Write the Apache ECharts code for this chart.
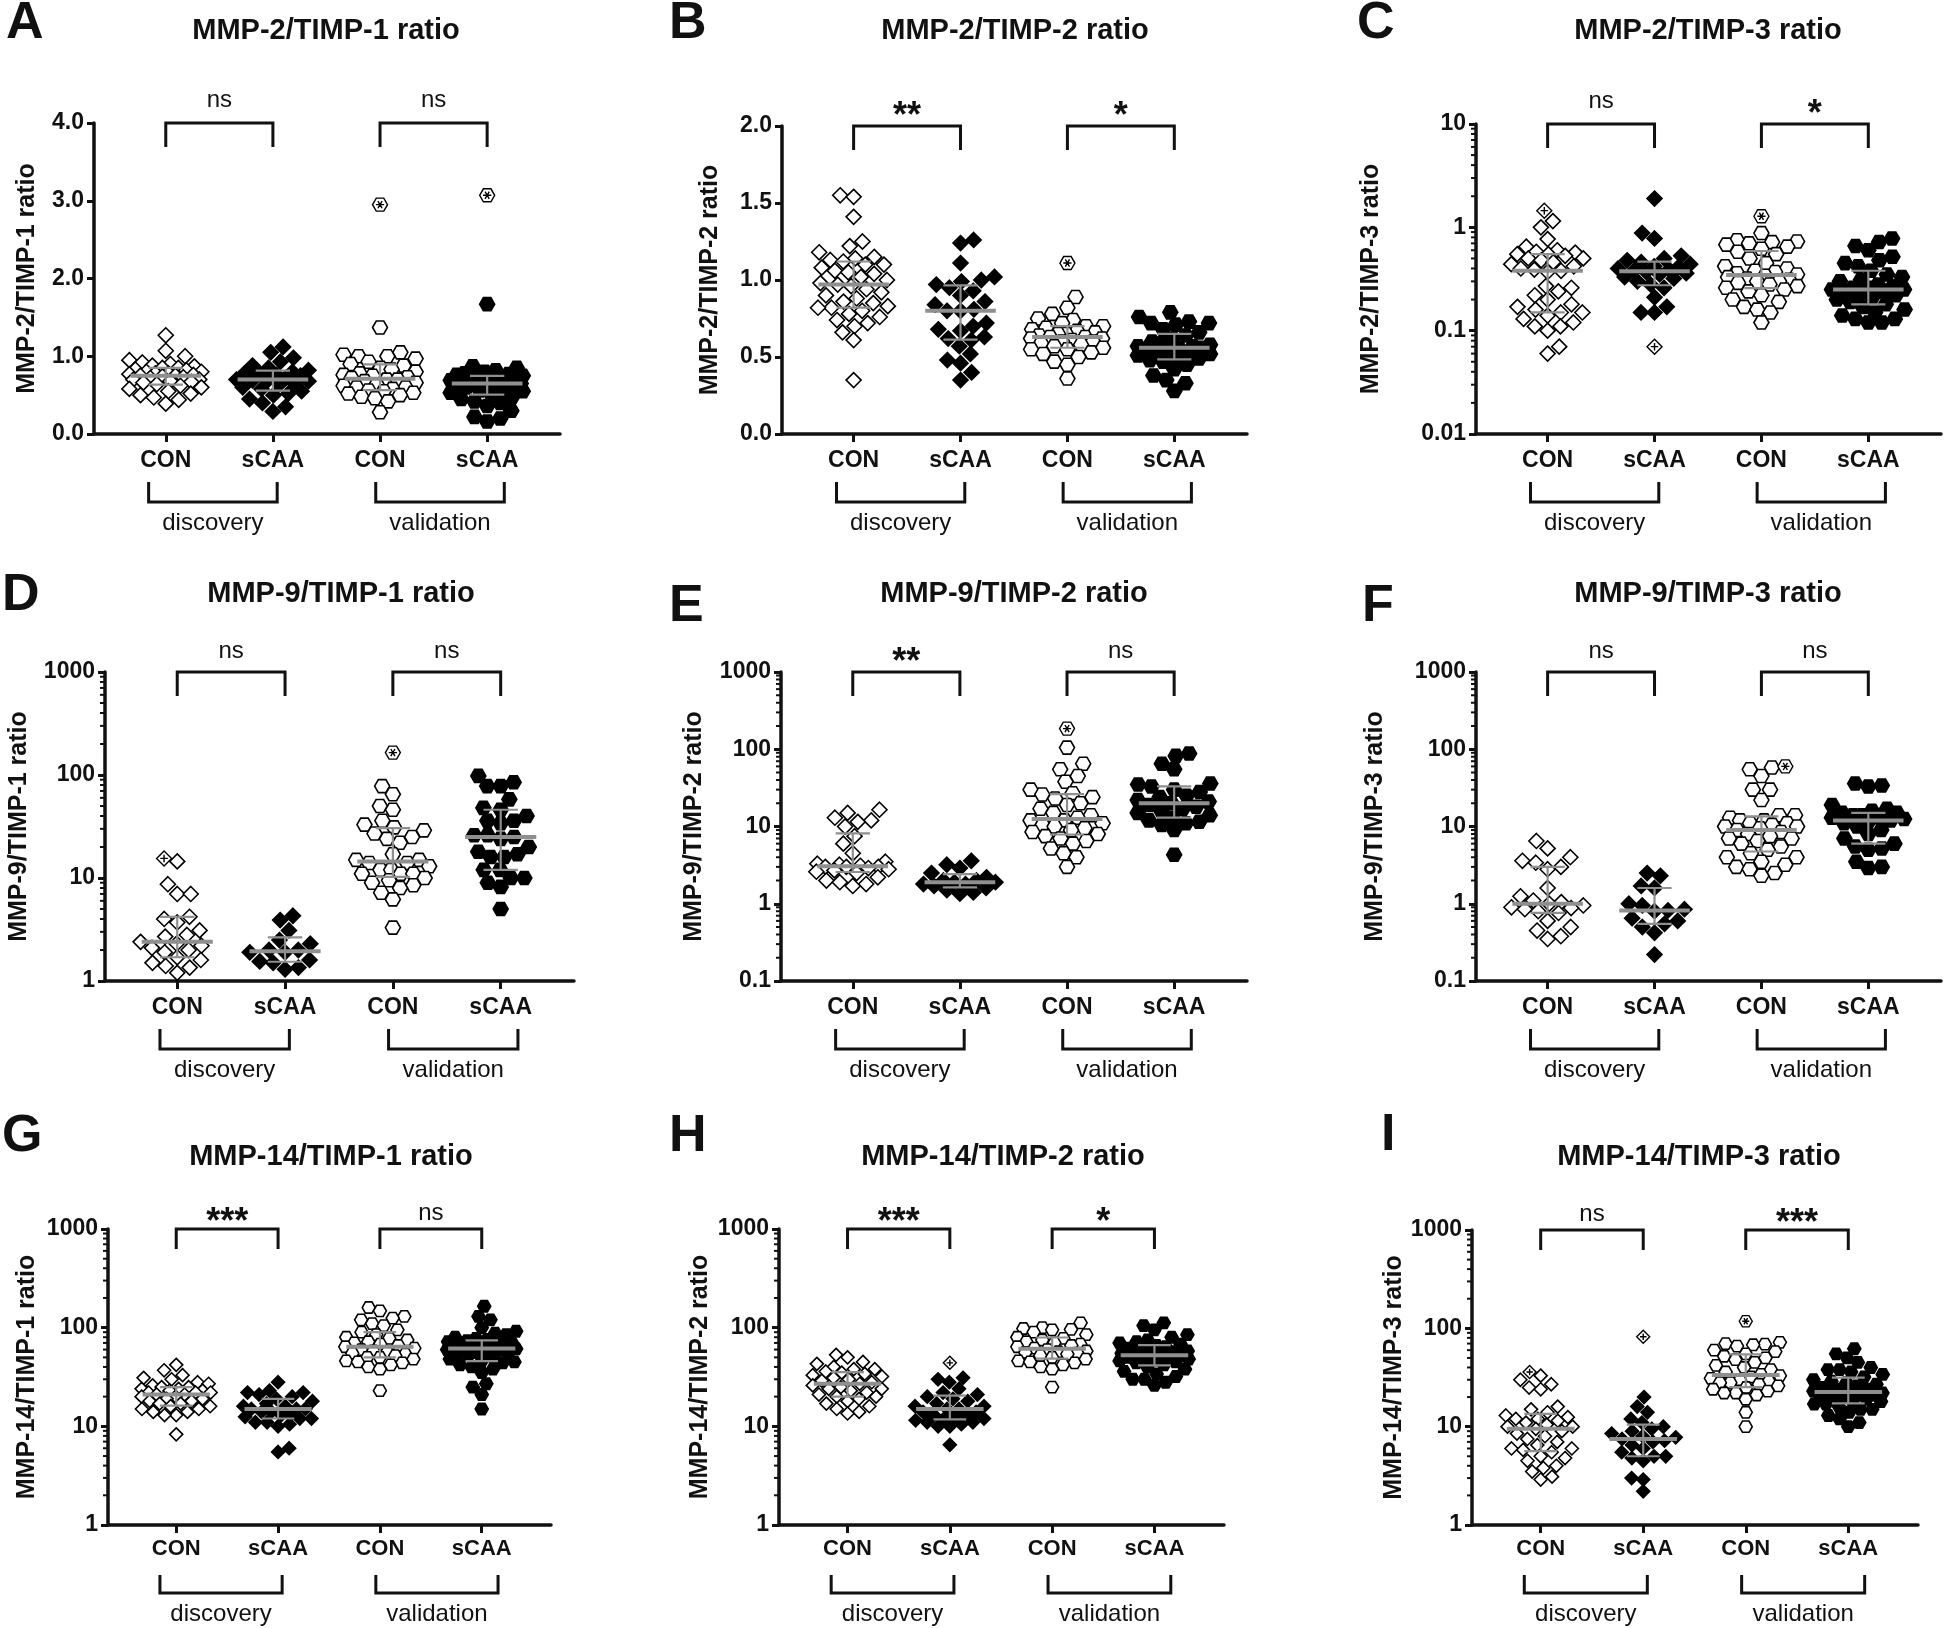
<!DOCTYPE html>
<html><head><meta charset="utf-8">
<script src="https://cdn.jsdelivr.net/npm/echarts@6/dist/echarts.min.js"></script>
<style>html,body{margin:0;padding:0;background:#fff}#c{width:1944px;height:1628px}</style>
</head><body><div id="c"></div>
<script>
// ---------- categories / labels ----------
const CATS = ['CON', 'sCAA', 'CON', 'sCAA'];
const COHORTS = ['discovery', 'validation'];
const LETTERS = ['A','B','C','D','E','F','G','H','I'];
const TITLES = ['MMP-2/TIMP-1 ratio','MMP-2/TIMP-2 ratio','MMP-2/TIMP-3 ratio',
                'MMP-9/TIMP-1 ratio','MMP-9/TIMP-2 ratio','MMP-9/TIMP-3 ratio',
                'MMP-14/TIMP-1 ratio','MMP-14/TIMP-2 ratio','MMP-14/TIMP-3 ratio'];
const SIG = [['ns','ns'],['**','*'],['ns','*'],['ns','ns'],['**','ns'],['ns','ns'],['***','ns'],['***','*'],['ns','***']];
// y axis ranges: [type, min, max, interval]
const YAX = [['value',0,4,1],['value',0,2,0.5],['log',0.01,10],['log',1,1000],['log',0.1,1000],['log',0.1,1000],['log',1,1000],['log',1,1000],['log',1,1000]];

// ---------- data (groups: discovery CON, discovery sCAA, validation CON, validation sCAA) ----------
const A_disCON = [1.27,1.07,1.0,0.95,0.92,0.9,0.88,0.87,0.85,0.85,0.83,0.82,0.8,0.8,0.78,0.78,0.77,0.76,0.75,0.75,0.74,0.73,0.72,0.7,0.7,0.68,0.67,0.66,0.64,0.62,0.6,0.58,0.55,0.52,0.5,0.47,0.44,0.39];
const A_disSCAA = [1.12,1.05,0.98,0.93,0.88,0.85,0.82,0.8,0.78,0.77,0.76,0.75,0.72,0.7,0.7,0.69,0.68,0.66,0.64,0.6,0.58,0.55,0.52,0.5,0.45,0.4,0.35,0.29];
const A_valCON = [2.95,1.37,1.05,1.02,1.0,1.0,0.97,0.93,0.9,0.88,0.85,0.83,0.8,0.78,0.76,0.75,0.73,0.72,0.7,0.7,0.68,0.66,0.64,0.62,0.6,0.6,0.58,0.56,0.55,0.53,0.52,0.5,0.48,0.46,0.42,0.28];
const A_valSCAA = [3.07,1.67,0.87,0.85,0.82,0.8,0.78,0.77,0.76,0.75,0.74,0.73,0.72,0.7,0.7,0.69,0.68,0.67,0.66,0.65,0.65,0.64,0.63,0.62,0.6,0.6,0.58,0.56,0.55,0.53,0.5,0.48,0.45,0.42,0.4,0.36,0.3,0.22,0.2,0.16];
const A_flag = [null, null, 2.95, 3.07];

const B_disCON = [1.55,1.54,1.41,1.25,1.22,1.18,1.15,1.14,1.13,1.12,1.1,1.1,1.08,1.06,1.05,1.04,1.02,1.0,0.98,0.97,0.96,0.94,0.92,0.9,0.88,0.86,0.85,0.83,0.82,0.82,0.8,0.78,0.76,0.74,0.72,0.7,0.66,0.61,0.35];
const B_disSCAA = [1.26,1.24,1.11,1.02,1.0,0.99,0.97,0.95,0.93,0.9,0.86,0.84,0.81,0.8,0.8,0.72,0.7,0.68,0.67,0.63,0.62,0.61,0.57,0.52,0.48,0.46,0.4,0.35];
const B_valCON = [1.11,0.89,0.82,0.78,0.75,0.74,0.72,0.7,0.7,0.69,0.68,0.67,0.66,0.65,0.65,0.64,0.63,0.63,0.62,0.62,0.61,0.6,0.6,0.59,0.58,0.57,0.56,0.55,0.55,0.53,0.52,0.5,0.47,0.45,0.36];
const B_valSCAA = [0.79,0.76,0.73,0.72,0.72,0.71,0.68,0.66,0.64,0.62,0.6,0.59,0.58,0.57,0.57,0.56,0.56,0.55,0.55,0.54,0.53,0.52,0.51,0.5,0.49,0.48,0.47,0.45,0.42,0.38,0.35,0.33,0.28];
const B_flag = [null, null, 1.11, null];

const C_disCON = [1.45,1.15,1.0,0.77,0.65,0.6,0.58,0.57,0.55,0.55,0.53,0.5,0.5,0.48,0.46,0.44,0.42,0.4,0.39,0.38,0.37,0.27,0.26,0.24,0.22,0.2,0.18,0.17,0.16,0.15,0.15,0.14,0.13,0.12,0.11,0.11,0.1,0.07,0.06];
const C_disSCAA = [1.9,0.88,0.78,0.53,0.5,0.48,0.46,0.44,0.42,0.41,0.4,0.39,0.38,0.37,0.36,0.35,0.33,0.32,0.3,0.28,0.26,0.21,0.17,0.15,0.15,0.07];
const C_valCON = [1.28,0.88,0.75,0.73,0.72,0.7,0.68,0.65,0.62,0.58,0.55,0.5,0.45,0.42,0.4,0.38,0.37,0.36,0.35,0.34,0.33,0.32,0.31,0.3,0.3,0.29,0.28,0.27,0.26,0.25,0.24,0.22,0.2,0.19,0.17,0.16,0.15,0.12];
const C_valSCAA = [0.78,0.72,0.66,0.6,0.52,0.48,0.45,0.42,0.38,0.35,0.33,0.31,0.3,0.28,0.27,0.26,0.26,0.25,0.25,0.24,0.24,0.23,0.22,0.21,0.2,0.19,0.18,0.17,0.16,0.15,0.14,0.13,0.13,0.12,0.12];
const C_flag = [1.45, 0.07, 1.28, null];

const D_disCON = [15.5,14.5,8.7,7.0,7.0,4.2,4.0,3.7,3.1,2.8,2.7,2.4,2.3,2.2,2.1,2.0,1.9,1.7,1.6,1.5,1.4,1.35,1.2];
const D_disSCAA = [4.3,3.9,3.1,2.5,2.3,2.0,2.0,1.9,1.9,1.6,1.55,1.5,1.35,1.3];
const D_valCON = [165,78,65,50,46,36,33,31,29,27,25,24,22,17,15,15,14,14,13,12,12,11,11,11,10,9.5,9,8.5,8,7.2,6.2,3.3];
const D_valSCAA = [98,85,78,78,58,48,46,40,36,36,34,26,26,25,24,20,18,17,16,16,12,12,10,10,9,8.2,5];
const D_flag = [15.5, null, 165, null];

const E_disCON = [16.5,15,13,12,11.5,10,7.5,6,4.5,3.5,3.3,3.2,3.1,3.0,3.0,3.0,2.9,2.8,2.7,2.6,2.5,2.2,2.0,1.9,1.8,1.7];
const E_disSCAA = [3.6,3.2,2.9,2.5,2.2,2.0,2.0,1.9,1.9,1.8,1.8,1.7,1.6,1.5,1.4,1.35];
const E_valCON = [185,105,65,55,45,38,30,27,26,24,23,20,19,17,15,14,13,12,12,11,10.5,10,9.5,9,8.5,8,7.5,7,6.5,6,5.2,4.5,4.0,3.0];
const E_valSCAA = [88,82,65,55,36,35,33,30,28,25,24,22,21,20,19,18,17,16,15,14,13,12,11.5,11,10.5,9,4.3];
const E_flag = [null, null, 185, null];

const F_disCON = [6.5,5.2,4.0,3.6,3.4,3.0,2.8,1.6,1.25,1.1,1.05,1.0,0.95,0.9,0.88,0.85,0.8,0.76,0.6,0.5,0.45,0.38,0.35];
const F_disSCAA = [2.5,2.3,1.7,1.6,1.0,0.95,0.85,0.82,0.8,0.65,0.6,0.55,0.5,0.42,0.22];
const F_valCON = [60,58,55,45,30,30,22,14,14,13,12,12,11,11,10.5,10,10,9.5,9,8.5,8,7.5,7,7,6.5,6,5.5,5,4.5,4,4,3.5,3.2,3.0,2.8,2.5,2.3];
const F_valSCAA = [36,34,33,19,17,16,15,15,14,14,13,13,12.5,12,12,11,10,9,8,7,6,5.5,5.2,5,3.5,3.0,2.9];
const F_flag = [null, null, 60, null];

const G_disCON = [42,37,33,31,30,28,27,26,25,25,24,24,23,23,22,22,22,21,21,20,20,19,19,18,18,17,17,16,16,15,15,14,14,13,13,8.3];
const G_disSCAA = [28,23,22,22,21,20,19,18,17,16,16,15,15,15,14,14,13,13,12.5,12,12,11,11,10.5,10,6,5.5];
const G_valCON = [160,148,130,125,120,110,105,95,90,85,80,78,75,72,70,68,66,64,62,60,58,57,55,54,52,50,50,48,46,45,44,42,40,38,23];
const G_valSCAA = [165,130,120,100,92,88,85,80,78,76,74,72,70,69,68,67,66,65,64,63,62,61,60,59,58,56,55,54,52,50,48,46,45,44,42,40,38,35,27,25,21,15];
const G_flag = [null, null, null, null];

const H_disCON = [53,50,45,43,40,38,38,36,35,34,33,32,31,30,29,28,27,26,25,24,24,23,22,21,20,20,19,18,17,16,15,14,13.5];
const H_disSCAA = [44,31,30,28,24,22,21,20,19,18,17,16,16,15,15,14,14,13,13,12.5,12,12,11.5,11,11,10.5,10,10,6.5];
const H_valCON = [112,100,98,96,95,90,85,80,78,75,72,70,68,66,64,62,60,58,57,56,55,54,52,50,48,46,45,44,42,40,38,25];
const H_valSCAA = [112,105,95,85,80,75,72,70,68,66,64,62,60,58,57,56,55,54,53,52,51,50,49,48,47,46,45,44,42,40,38,36,34,32,30,30,28,26];
const H_flag = [null, 44, null, null];

const I_disCON = [36,33,30,27,25,24,16,15,14,13,12.5,12,12,11.5,11,10.5,10,10,9.5,9,8.5,8,7.5,7,6.5,6,6,5.8,5.5,5,4.8,4.5,4,3.8,3.5,3.1,2.9];
const I_disSCAA = [82,20,16,14,12,11,10,9.5,9,8.5,8,7.8,7.5,7.2,7,6.5,6,5.5,5,5,4.8,4.5,3,2.9,2.2];
const I_valCON = [118,72,70,69,68,66,60,58,55,52,50,48,45,42,40,38,36,34,33,32,31,30,29,28,28,27,26,25,24,23,22,22,21,19,14,10];
const I_valSCAA = [62,55,50,45,40,38,38,36,34,32,30,29,28,27,26,25,24,24,23,23,22,22,21,21,20,20,19,19,18,18,17,17,16,15,15,14,13,12,11,10];
const I_flag = [36, 82, 118, null];

const PANELS = [
  [A_disCON, A_disSCAA, A_valCON, A_valSCAA, A_flag],
  [B_disCON, B_disSCAA, B_valCON, B_valSCAA, B_flag],
  [C_disCON, C_disSCAA, C_valCON, C_valSCAA, C_flag],
  [D_disCON, D_disSCAA, D_valCON, D_valSCAA, D_flag],
  [E_disCON, E_disSCAA, E_valCON, E_valSCAA, E_flag],
  [F_disCON, F_disSCAA, F_valCON, F_valSCAA, F_flag],
  [G_disCON, G_disSCAA, G_valCON, G_valSCAA, G_flag],
  [H_disCON, H_disSCAA, H_valCON, H_valSCAA, H_flag],
  [I_disCON, I_disSCAA, I_valCON, I_valSCAA, I_flag]
];

// ---------- layout (pixels) ----------
const LAY = [
  {l:94,  t:123, w:466, h:311, tx:326,  ty:31,   lx:6,    ly:24,   gap:54, row:0},
  {l:782, t:126, w:465, h:308, tx:1015, ty:31,   lx:669,  ly:24,   gap:59, row:0},
  {l:1476,t:124, w:465, h:310, tx:1708, ty:31,   lx:1357, ly:24,   gap:92, row:0},
  {l:105, t:672, w:469, h:309, tx:341,  ty:594,  lx:2,    ly:596,  gap:73, row:1},
  {l:781, t:672, w:466, h:309, tx:1014, ty:594,  lx:669,  ly:607,  gap:74, row:1},
  {l:1476,t:672, w:465, h:309, tx:1708, ty:594,  lx:1362, ly:607,  gap:88, row:1},
  {l:108, t:1229,w:443, h:296, tx:331,  ty:1157, lx:2,    ly:1137, gap:68, row:2},
  {l:779, t:1229,w:445, h:296, tx:1003, ty:1157, lx:669,  ly:1137, gap:66, row:2},
  {l:1472,t:1230,w:446, h:295, tx:1699, ty:1157, lx:1381, ly:1136, gap:65, row:2}
];
const XMIN = -0.67, XMAX = 3.68;
const FF = '"Liberation Sans", Arial, Helvetica, sans-serif';
const INK = '#111';
const GRAY = '#8f8f8f';
const HEX = 'path://M-1,0 L-0.5,-0.866 L0.5,-0.866 L1,0 L0.5,0.866 L-0.5,0.866 Z';
const HEX_FLAG = 'path://M-1,0 L-0.5,-0.866 L0.5,-0.866 L1,0 L0.5,0.866 L-0.5,0.866 Z M-0.55,0 L0.55,0 M-0.28,-0.48 L0.28,0.48 M-0.28,0.48 L0.28,-0.48';
const DIA_FLAG = 'path://M0,-1 L1,0 L0,1 L-1,0 Z M-0.5,0 L0.5,0 M0,-0.5 L0,0.5';

const chart = echarts.init(document.getElementById('c'), null, {renderer: 'canvas'});

function fmtY(v) { return String(+Number(v).toPrecision(4)); }

const grids = [], xAxes = [], yAxes = [], graphics = [];
LAY.forEach((L, i) => {
  const r3 = L.row === 2;
  grids.push({left: L.l, top: L.t, width: L.w, height: L.h, containLabel: false, outerBoundsMode: 'none'});
  xAxes.push({
    type: 'value', gridIndex: i, min: XMIN, max: XMAX,
    axisLine: {show: true, onZero: false, lineStyle: {color: INK, width: 3.5}},
    axisTick: {show: true, customValues: [0,1,2,3], length: 8, lineStyle: {color: INK, width: 3}},
    axisLabel: {show: true, customValues: [0,1,2,3], formatter: v => CATS[Math.round(v)] || '',
      fontSize: r3 ? 22 : 23, fontWeight: 'bold', color: INK, fontFamily: FF, margin: r3 ? 13 : 15},
    splitLine: {show: false}
  });
  const Y = YAX[i];
  const ya = {
    type: Y[0], gridIndex: i, min: Y[1], max: Y[2],
    name: TITLES[i], nameLocation: 'middle', nameGap: L.gap, nameRotate: 90,
    nameTextStyle: {fontSize: 25, fontWeight: 'bold', color: INK, fontFamily: FF},
    axisLine: {show: true, onZero: false, lineStyle: {color: INK, width: 3.5}},
    axisTick: {show: true, length: 7, lineStyle: {color: INK, width: 3}},
    axisLabel: {show: true, fontSize: 23, fontWeight: 'bold', color: INK, fontFamily: FF, margin: 10,
      showMinLabel: true, showMaxLabel: true,
      formatter: Y[0] === 'value' ? (v => Number(v).toFixed(1)) : fmtY},
    splitLine: {show: false}, minorTick: {show: false}
  };
  if (Y[0] === 'value') ya.interval = Y[3]; else ya.logBase = 10;
  yAxes.push(ya);
  graphics.push({type: 'text', x: L.tx, y: L.ty, silent: true,
    style: {text: TITLES[i], align: 'center', verticalAlign: 'middle', fontSize: 29, fontWeight: 'bold', fontFamily: FF, fill: INK}});
  graphics.push({type: 'text', x: L.lx, y: L.ly, silent: true,
    style: {text: LETTERS[i], align: 'left', verticalAlign: 'middle', fontSize: 52, fontWeight: 'bold', fontFamily: FF, fill: INK}});
});

chart.setOption({
  animation: false, backgroundColor: '#fff',
  grid: grids, xAxis: xAxes, yAxis: yAxes, graphic: graphics, series: []
});

// ---------- helpers ----------
function quant(s, p) {
  const n = s.length, pos = (n + 1) * p;
  if (pos <= 1) return s[0];
  if (pos >= n) return s[n - 1];
  const lo = Math.floor(pos), f = pos - lo;
  return s[lo - 1] + f * (s[lo] - s[lo - 1]);
}
function swarm(py, D, maxHalf) {
  const n = py.length;
  const idx = py.map((_, i) => i).sort((a, b) => py[b] - py[a]);
  const placed = [], out = new Array(n);
  let flip = 1;
  for (const i of idx) {
    const y = py[i];
    const near = placed.filter(p => Math.abs(p.y - y) < D);
    const cands = [0];
    near.forEach(p => { const dx = Math.sqrt(D * D - (p.y - y) * (p.y - y)); cands.push(p.x + dx, p.x - dx); });
    cands.sort((a, b) => (Math.abs(a) - Math.abs(b)) || (flip * (a - b)));
    flip = -flip;
    let best = null;
    for (const c of cands) {
      if (Math.abs(c) > maxHalf + 1e-6) continue;
      if (near.every(p => (p.x - c) * (p.x - c) + (p.y - y) * (p.y - y) >= D * D - 1e-6)) { best = c; break; }
    }
    if (best === null) {
      let bd = -1;
      for (let c = -maxHalf; c <= maxHalf + 1e-6; c += 1) {
        let md = Infinity;
        near.forEach(p => { const d = (p.x - c) * (p.x - c) + (p.y - y) * (p.y - y); if (d < md) md = d; });
        if (md > bd + 1e-6 || (Math.abs(md - bd) < 1e-6 && Math.abs(c) < Math.abs(best))) { bd = md; best = c; }
      }
    }
    out[i] = best;
    placed.push({x: best, y});
  }
  return out;
}

// ---------- series ----------
const series = [];
PANELS.forEach((P, i) => {
  const L = LAY[i], Y = YAX[i], row = L.row;
  const msz = row === 2 ? 13 : 15;
  const f = {gridIndex: i};
  const p0 = chart.convertToPixel(f, [0, Y[1]]);
  const p1 = chart.convertToPixel(f, [1, Y[1]]);
  const unit = p1[0] - p0[0];
  const flags = P[4];
  const stats = [];
  for (let g = 0; g < 4; g++) {
    const vals = P[g];
    const py = vals.map(v => chart.convertToPixel(f, [g, v])[1]);
    const offs = swarm(py, msz * 0.9, 0.34 * unit);
    const normal = [], flagged = [];
    let flagUsed = false;
    vals.forEach((v, k) => {
      const pt = [g + offs[k] / unit, v];
      if (!flagUsed && flags[g] !== null && v === flags[g]) { flagged.push(pt); flagUsed = true; }
      else normal.push(pt);
    });
    const disc = g < 2, filled = (g % 2) === 1;
    series.push({
      type: 'scatter', xAxisIndex: i, yAxisIndex: i, silent: true, z: 2,
      symbol: disc ? 'diamond' : HEX, symbolSize: msz, symbolKeepAspect: true,
      itemStyle: {color: filled ? '#000' : '#fff', borderColor: '#000', borderWidth: 1.6, opacity: 1},
      data: normal
    });
    if (flagged.length) series.push({
      type: 'scatter', xAxisIndex: i, yAxisIndex: i, silent: true, z: 3,
      symbol: disc ? DIA_FLAG : HEX_FLAG, symbolSize: msz, symbolKeepAspect: true,
      itemStyle: {color: '#fff', borderColor: '#000', borderWidth: 1.4, opacity: 1},
      data: flagged
    });
    const s = vals.slice().sort((a, b) => a - b);
    stats.push([g, quant(s, 0.25), quant(s, 0.5), quant(s, 0.75)]);
  }
  // median + IQR
  series.push({
    type: 'custom', xAxisIndex: i, yAxisIndex: i, silent: true, z: 6, clip: false,
    data: stats,
    renderItem: (params, api) => {
      const x = api.value(0), lo = api.value(1), md = api.value(2), hi = api.value(3);
      const c = api.coord([x, md]), l = api.coord([x, lo]), h = api.coord([x, hi]);
      const hw = api.coord([x + 0.33, md])[0] - c[0];
      const cw = api.coord([x + 0.16, md])[0] - c[0];
      const st = {stroke: GRAY, lineWidth: 2.2, fill: null};
      return {type: 'group', children: [
        {type: 'line', shape: {x1: c[0], y1: l[1], x2: c[0], y2: h[1]}, style: st},
        {type: 'line', shape: {x1: c[0] - cw, y1: l[1], x2: c[0] + cw, y2: l[1]}, style: st},
        {type: 'line', shape: {x1: c[0] - cw, y1: h[1], x2: c[0] + cw, y2: h[1]}, style: st},
        {type: 'line', shape: {x1: c[0] - hw, y1: c[1], x2: c[0] + hw, y2: c[1]}, style: {stroke: GRAY, lineWidth: 4, fill: null}}
      ]};
    }
  });
  // significance brackets
  const sig = SIG[i];
  series.push({
    type: 'custom', xAxisIndex: i, yAxisIndex: i, silent: true, z: 5, clip: false,
    data: [[0, 1, 0], [2, 3, 1]],
    renderItem: (params, api) => {
      const x0 = api.value(0), x1 = api.value(1), k = api.value(2);
      const a = api.coord([x0, Y[2]]), b = api.coord([x1, Y[2]]);
      const lab = sig[k], ns = lab === 'ns';
      const gap = ns ? [23, 21, 16][row] : [8.5, 8.5, 5.5][row];
      const leg = row === 2 ? 20 : 24;
      return {type: 'group', children: [
        {type: 'polyline', shape: {points: [[a[0], a[1] + leg], [a[0], a[1]], [b[0], b[1]], [b[0], b[1] + leg]]},
          style: {stroke: INK, lineWidth: 3, fill: null}},
        {type: 'text', style: {text: lab, x: (a[0] + b[0]) / 2, y: a[1] - gap, align: 'center', verticalAlign: 'middle',
          fontSize: ns ? 24 : 36, fontWeight: ns ? 'normal' : 'bold', fontFamily: FF, fill: INK}}
      ]};
    }
  });
  // cohort brackets below
  series.push({
    type: 'custom', xAxisIndex: i, yAxisIndex: i, silent: true, z: 5, clip: false,
    data: [[0, 1, 0], [2, 3, 1]],
    renderItem: (params, api) => {
      const k = api.value(2);
      const a = api.coord([api.value(0) - (k === 0 ? 0.16 : 0.04), Y[1]]);
      const b = api.coord([api.value(1) + (k === 0 ? 0.04 : 0.16), Y[1]]);
      const y0 = a[1] + (row === 2 ? 50 : 48), y1 = a[1] + 68;
      return {type: 'group', children: [
        {type: 'polyline', shape: {points: [[a[0], y0], [a[0], y1], [b[0], y1], [b[0], y0]]},
          style: {stroke: INK, lineWidth: 3, fill: null}},
        {type: 'text', style: {text: COHORTS[k], x: (a[0] + b[0]) / 2, y: a[1] + 89, align: 'center', verticalAlign: 'middle',
          fontSize: 24, fontWeight: 'normal', fontFamily: FF, fill: INK}}
      ]};
    }
  });
  // log minor ticks
  if (Y[0] === 'log') {
    const minor = [];
    for (let d = Y[1]; d < Y[2] * 0.999; d *= 10) for (let m = 2; m <= 9; m++) minor.push([XMIN, +(m * d).toPrecision(6)]);
    series.push({
      type: 'custom', xAxisIndex: i, yAxisIndex: i, silent: true, z: 4, clip: false,
      data: minor,
      renderItem: (params, api) => {
        const p = api.coord([api.value(0), api.value(1)]);
        return {type: 'line', shape: {x1: p[0] - 5, y1: p[1], x2: p[0], y2: p[1]}, style: {stroke: INK, lineWidth: 2}};
      }
    });
  }
});

chart.setOption({series: series});
</script>
</body></html>
